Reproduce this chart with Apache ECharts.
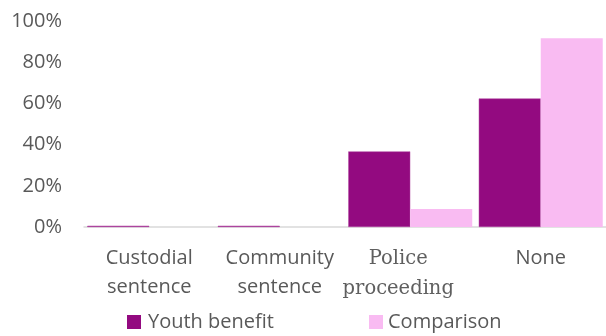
<!DOCTYPE html>
<html><head><meta charset="utf-8">
<script src="https://cdn.jsdelivr.net/npm/echarts@6/dist/echarts.min.js"></script>
<style>html,body{margin:0;padding:0;background:#fff}#c{width:606px;height:336px}</style>
</head><body><div id="c"></div>
<script>
const categories = ['Custodial\nsentence', 'Community\nsentence', 'Police\nproceeding', 'None'];
const youthBenefit = [0.6, 0.6, 36.7, 62.4];
const comparison = [0, 0, 8.7, 91.6];
const yTicks = [0, 20, 40, 60, 80, 100];

const chart = echarts.init(document.getElementById('c'), null, {renderer: 'canvas'});
const labelFont = '"Open Sans", "Noto Sans", sans-serif';
chart.setOption({
  animation: false,
  grid: {left: 84, right: -4, top: 21, bottom: 109, containLabel: false},
  legend: [
    {data: ['Youth benefit'], left: 127, top: 312, padding: 0, itemWidth: 14, itemHeight: 14, itemGap: 0, icon: 'rect',
     itemStyle: {borderWidth: 0},
     textStyle: {fontFamily: labelFont, fontSize: 20, color: '#595959', padding: [0,0,0,2]}},
    {data: ['Comparison'], left: 369, top: 312, padding: 0, itemWidth: 14, itemHeight: 14, itemGap: 0, icon: 'rect',
     itemStyle: {borderWidth: 0},
     textStyle: {fontFamily: labelFont, fontSize: 20, color: '#595959', padding: [0,0,0,0]}}
  ],
  xAxis: {
    type: 'category',
    data: categories.map((c, i) => i === 2 ? {value: c, textStyle: {fontFamily: '"DejaVu Serif", "Liberation Serif", serif', fontSize: 19.5, color: '#5f5f5f', padding: [0, 24, 0, 0], lineHeight: 30}} : c),
    axisLine: {lineStyle: {color: '#d9d9d9', width: 1.5}},
    axisTick: {show: false},
    axisLabel: {fontFamily: labelFont, fontSize: 20, color: '#595959', lineHeight: 29, margin: 17, interval: 0}
  },
  yAxis: {
    type: 'value', min: 0, max: 100, interval: 20,
    splitLine: {show: false},
    axisLine: {show: false},
    axisTick: {show: false},
    axisLabel: {fontFamily: labelFont, fontSize: 20, color: '#595959', margin: 22,
      formatter: v => yTicks.includes(v) ? v + '%' : ''}
  },
  series: [
    {name: 'Youth benefit', type: 'bar', data: youthBenefit, barGap: '0%', barCategoryGap: '5%',
     itemStyle: {color: '#930A80', borderColor: '#b04aa3', borderWidth: 0.5}},
    {name: 'Comparison', type: 'bar', data: comparison,
     itemStyle: {color: '#F9BBF2'}}
  ]
});
</script></body></html>
